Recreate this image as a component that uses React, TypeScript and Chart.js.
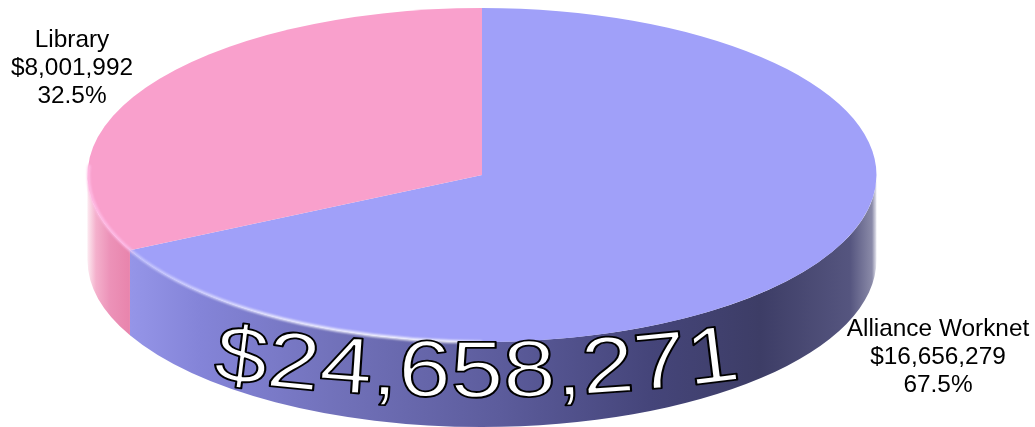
import React, { useEffect, useRef } from "react";
import { Chart, registerables } from "chart.js";

Chart.register(...registerables);

const categories = ["Alliance Worknet", "Library"];
const amounts = [16656279, 8001992];
const topColors = ["#a0a0f9", "#f9a0cc"];
const labelAnchors = [
  { x: 938, y: 336 },
  { x: 72, y: 46.5 },
];
const wallStops = [
  [
    [130, "#9595e8"],
    [200, "#8484d8"],
    [330, "#7272bb"],
    [500, "#5c5c9c"],
    [650, "#45457a"],
    [760, "#3d3d66"],
    [850, "#55557f"],
    [872, "#8a8aa8"],
    [877, "#e8e8f0"],
  ],
  [
    [88, "#fce6ee"],
    [96, "#f4b0cc"],
    [110, "#ec92b8"],
    [130, "#e884ac"],
  ],
];

const WALL = 85;
const SQUASH = 167 / 394.5;
const LABEL_FONT = '24.4px "Liberation Sans"';
const BIG_FONT = '80px "Liberation Sans"';
const money = (v: number) => "$" + v.toLocaleString("en-US");
const total = amounts.reduce((a, b) => a + b, 0);

const pie3d = {
  id: "pie3d",
  beforeDatasetsDraw(chart: any) {
    const ctx = chart.ctx as CanvasRenderingContext2D;
    const arcs = chart.getDatasetMeta(0).data as any[];
    arcs.forEach((arc, i) => {
      const { x, y, outerRadius: r, startAngle, endAngle } = arc;
      const ry = r * SQUASH;
      // front-facing part of the slice, in canvas angles
      const parts: [number, number][] = [];
      const full = 2 * Math.PI;
      for (let k = -1; k <= 1; k++) {
        const lo = Math.max(startAngle + k * full, 0);
        const hi = Math.min(endAngle + k * full, Math.PI);
        if (hi > lo) parts.push([lo, hi]);
      }
      const g = ctx.createLinearGradient(x - r, 0, x + r, 0);
      for (const [px, c] of wallStops[i] as [number, string][]) {
        const s = (px - (x - r)) / (2 * r);
        g.addColorStop(Math.min(1, Math.max(0, s)), c);
      }
      ctx.save();
      ctx.fillStyle = g;
      ctx.filter = "blur(0.7px)";
      for (const [a, b] of parts) {
        ctx.beginPath();
        ctx.ellipse(x, y + WALL, r, ry, 0, a, b, false);
        ctx.ellipse(x, y, r, ry, 0, b, a, true);
        ctx.closePath();
        ctx.fill();
      }
      ctx.restore();
    });
    const first = arcs[0];
    ctx.save();
    ctx.translate(0, first.y);
    ctx.scale(1, SQUASH);
    ctx.translate(0, -first.y);
  },
  afterDatasetsDraw(chart: any) {
    const ctx = chart.ctx as CanvasRenderingContext2D;
    ctx.restore();
    const arc = chart.getDatasetMeta(0).data[0];
    const { x, y, outerRadius: r } = arc;
    const ry = r * SQUASH;

    // highlight on the upper rim of the wall
    const rim = ctx.createLinearGradient(88, 0, 877, 0);
    rim.addColorStop(0, "rgba(255,190,230,0.9)");
    rim.addColorStop(0.05, "rgba(255,190,235,0.9)");
    rim.addColorStop(0.06, "rgba(205,205,255,0.8)");
    rim.addColorStop(0.25, "rgba(240,240,255,0.95)");
    rim.addColorStop(0.46, "rgba(255,255,255,0.9)");
    rim.addColorStop(0.56, "rgba(255,255,255,0)");
    rim.addColorStop(1, "rgba(255,255,255,0)");
    ctx.save();
    ctx.strokeStyle = rim;
    ctx.lineWidth = 3;
    ctx.filter = "blur(0.8px)";
    ctx.beginPath();
    ctx.ellipse(x, y + 0.5, r - 1, ry - 0.5, 0, Math.PI * 0.5, Math.PI * 1.02, false);
    ctx.stroke();
    ctx.restore();

    // slice labels
    ctx.save();
    ctx.font = LABEL_FONT;
    ctx.fillStyle = "#000";
    ctx.textAlign = "center";
    ctx.textBaseline = "alphabetic";
    categories.forEach((name, i) => {
      const a = labelAnchors[i];
      const pct = ((amounts[i] / total) * 100).toFixed(1) + "%";
      [name, money(amounts[i]), pct].forEach((line, j) => {
        ctx.fillText(line, a.x, a.y + j * 28);
      });
    });
    ctx.restore();

    // total, following the curve of the wall
    const text = money(total);
    ctx.save();
    ctx.font = BIG_FONT;
    ctx.textAlign = "left";
    ctx.textBaseline = "alphabetic";
    ctx.lineJoin = "round";
    const widths = [...text].map((c) => ctx.measureText(c).width);
    const natural = widths.reduce((a, b) => a + b, 0);
    const left = 212;
    const right = 742;
    const sx = (right - left) / natural;
    const mid = 476;
    let cur = left;
    [...text].forEach((c, i) => {
      const w = widths[i] * sx;
      const cx = cur + w / 2;
      const t = (cx - mid) / 250;
      const by = 397 - 16 * t * t;
      const angle = Math.atan((-2 * 16 * t) / 250);
      ctx.save();
      ctx.translate(cx, by);
      ctx.rotate(angle);
      ctx.scale(sx, 1);
      ctx.fillStyle = "#fff";
      ctx.fillText(c, -widths[i] / 2, 0);
      ctx.strokeStyle = "#000";
      ctx.lineWidth = 1.8;
      ctx.strokeText(c, -widths[i] / 2, 0);
      ctx.restore();
      cur += w;
    });
    ctx.restore();
  },
};

export default function App() {
  const ref = useRef<HTMLCanvasElement>(null);
  useEffect(() => {
    const chart = new Chart(ref.current as HTMLCanvasElement, {
      type: "pie",
      data: {
        labels: categories,
        datasets: [
          {
            data: amounts,
            backgroundColor: topColors,
            borderWidth: 0,
            radius: 394.5,
            clip: false,
          } as any,
        ],
      },
      options: {
        animation: false,
        responsive: false,
        layout: { padding: { left: 0, right: 71, top: 0, bottom: 77 } },
        plugins: { legend: { display: false }, tooltip: { enabled: false } },
      },
      plugins: [pie3d],
    });
    return () => chart.destroy();
  }, []);
  return (
    <div style={{ position: "absolute", left: 0, top: 0, width: 1035, height: 427, background: "#fff" }}>
      <canvas ref={ref} width={1035} height={427} style={{ display: "block" }} />
    </div>
  );
}
